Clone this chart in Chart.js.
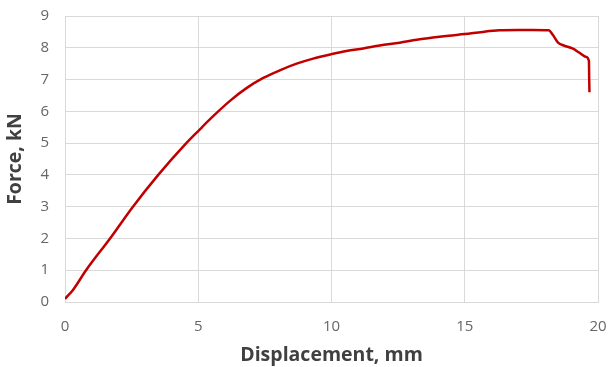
<!DOCTYPE html>
<html>
<head>
<meta charset="utf-8">
<script src="https://cdn.jsdelivr.net/npm/chart.js@4.4.1/dist/chart.umd.min.js"></script>
<style>
html,body{margin:0;padding:0;background:#fff;}
#wrap{width:610px;height:367px;position:relative;}
</style>
</head>
<body>
<div id="wrap"><canvas id="c" width="610" height="367"></canvas></div>
<script>
const displacement = [0, 0.3, 0.79, 1.69, 2.55, 3.5, 4.5, 5.0, 5.5, 6.19, 6.81, 7.44, 8.06, 8.69, 9.31, 10.0, 10.56, 11.19, 11.81, 12.56, 13.2, 13.81, 14.4, 15.0, 15.66, 16.3, 17.0, 17.56, 18.15, 18.31, 18.5, 18.69, 19.06, 19.31, 19.56, 19.66, 19.67, 19.68];
const force = [0.1, 0.38, 1.0, 2.0, 3.0, 4.0, 4.95, 5.38, 5.8, 6.33, 6.73, 7.05, 7.29, 7.50, 7.66, 7.80, 7.90, 7.98, 8.07, 8.16, 8.25, 8.32, 8.38, 8.43, 8.50, 8.55, 8.56, 8.56, 8.55, 8.40, 8.16, 8.08, 7.97, 7.84, 7.71, 7.58, 7.0, 6.6];
const xTicks = [0, 5, 10, 15, 20];
const yTicks = [0, 1, 2, 3, 4, 5, 6, 7, 8, 9];
const xTitle = 'Displacement, mm';
const yTitle = 'Force, kN';

const points = displacement.map((d, i) => ({x: d, y: force[i]}));
const tickFont = {family: '"Open Sans", "Liberation Sans", sans-serif', size: 15};
const titleFont = {family: '"Open Sans", sans-serif', size: 19.5, weight: 'bold'};

new Chart(document.getElementById('c'), {
  type: 'line',
  data: {
    datasets: [{
      data: points,
      borderColor: '#c00000',
      borderWidth: 2.5,
      pointRadius: 0,
      fill: false,
      cubicInterpolationMode: 'monotone'
    }]
  },
  options: {
    responsive: false,
    animation: false,
    devicePixelRatio: 1,
    layout: {padding: {top: 16, right: 12, left: 0, bottom: 0}},
    plugins: {legend: {display: false}, tooltip: {enabled: false}},
    scales: {
      x: {
        type: 'linear',
        min: 0, max: 20,
        afterBuildTicks: s => { s.ticks = xTicks.map(v => ({value: v})); },
        afterFit: s => { s.height = 65; s.paddingLeft = 0; s.paddingRight = 0; },
        grid: {color: '#d9d9d9', lineWidth: 1, drawTicks: false},
        border: {color: '#d9d9d9'},
        ticks: {color: '#666666', font: tickFont, padding: 16, maxRotation: 0},
        title: {display: true, text: xTitle, color: '#404040', font: titleFont, padding: {top: 0, bottom: 0}}
      },
      y: {
        type: 'linear',
        min: 0, max: 9,
        afterBuildTicks: s => { s.ticks = yTicks.map(v => ({value: v})); },
        afterFit: s => { s.width = 65; s.paddingTop = 0; s.paddingBottom = 0; },
        grid: {color: '#d9d9d9', lineWidth: 1, drawTicks: false},
        border: {color: '#d9d9d9'},
        ticks: {color: '#666666', font: tickFont, padding: 16},
        title: {display: true, text: yTitle, color: '#404040', font: titleFont, padding: {top: 4, bottom: 4}}
      }
    }
  }
});
</script>
</body>
</html>
